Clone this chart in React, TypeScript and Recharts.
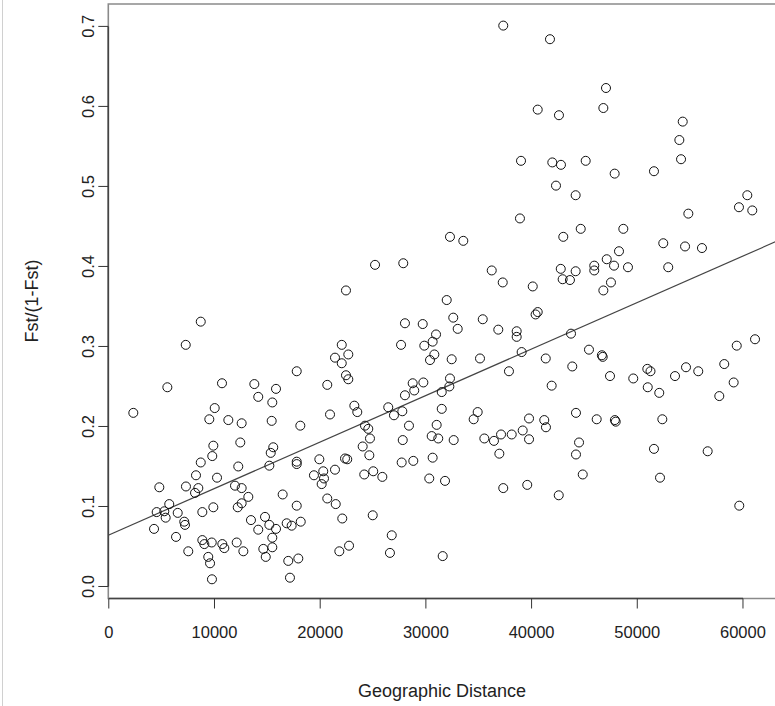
import { ScatterChart, Scatter, XAxis, YAxis, ReferenceLine, ReferenceArea, Label } from "recharts";

// geographic distance vs Fst/(1-Fst)
const distance = [
  25190, 22440, 37320, 32280, 33540, 27860, 36230, 37270, 31970, 41740,
  47040, 40580, 42590, 46790, 39000, 41960, 42780, 45120, 47860, 42310,
  44170, 38900, 44650, 48680, 43000, 48270, 47110, 45930, 45930, 47800,
  49120, 42760, 44170, 42940, 43630, 47510, 46790, 40110, 54300, 53980,
  54140, 51580, 60410, 59620, 60880, 54830, 52460, 54520, 56120, 52930,
  8700, 7280, 5540, 10710, 2320, 10020, 9510, 11310, 12570, 9890,
  9790, 12440, 8700, 8250, 10240, 12250, 4780, 7300, 8470, 8160,
  11940, 12570, 5720, 4530, 5250, 5380, 6520, 7140, 7210, 8850,
  9890, 12200, 12570, 4280, 6360, 7520, 8850, 9040, 9740, 10740,
  10930, 12100, 12730, 9410, 9580, 9760, 22040, 22660, 21400, 22040,
  17780, 22440, 22660, 13770, 20670, 15820, 14140, 15470, 23230, 23510,
  20930, 15410, 18120, 24240, 24550, 24710, 15560, 15320, 24020, 24650,
  15190, 17780, 17780, 19920, 22350, 22560, 21400, 20290, 19410, 20360,
  20140, 24170, 25020, 13200, 16450, 17780, 20670, 21470, 22090, 24970,
  13450, 14780, 15190, 14140, 15820, 16830, 17300, 18160, 15470, 14620,
  15470, 14850, 16980, 17930, 17140, 21810, 22730, 28020, 29700, 32590,
  35380, 33010, 36850, 30960, 30640, 29850, 27650, 30800, 30390, 32440,
  35120, 37860, 32280, 28750, 29760, 28900, 28020, 31500, 32220, 26440,
  26980, 27770, 31500, 34900, 34520, 28400, 31020, 27810, 30550, 31170,
  32630, 35530, 36440, 37110, 38120, 36950, 27710, 28810, 30640, 25880,
  30320, 31810, 37320, 26770, 26600, 31590, 40380, 40580, 38590, 38590,
  43730, 39060, 45430, 46650, 46730, 41340, 43850, 47420, 49620, 41900,
  39760, 41200, 41360, 44200, 46160, 47880, 47960, 39160, 39760, 44490,
  44200, 44840, 39590, 42570, 61140, 59410, 58230, 54610, 55770, 53570,
  50950, 51250, 50990, 52080, 59120, 57760, 52370, 51580, 56660, 52150,
  59650,
];

const fstRatio = [
  0.402, 0.370, 0.701, 0.437, 0.432, 0.404, 0.395, 0.380, 0.358, 0.684,
  0.623, 0.596, 0.589, 0.598, 0.532, 0.530, 0.527, 0.532, 0.516, 0.501,
  0.489, 0.460, 0.447, 0.447, 0.437, 0.419, 0.409, 0.401, 0.395, 0.401,
  0.399, 0.397, 0.394, 0.384, 0.383, 0.380, 0.370, 0.375, 0.581, 0.558,
  0.534, 0.519, 0.489, 0.474, 0.470, 0.466, 0.429, 0.425, 0.423, 0.399,
  0.331, 0.302, 0.249, 0.254, 0.217, 0.223, 0.209, 0.208, 0.204, 0.176,
  0.163, 0.180, 0.155, 0.139, 0.136, 0.150, 0.124, 0.125, 0.123, 0.117,
  0.126, 0.123, 0.103, 0.093, 0.094, 0.086, 0.092, 0.081, 0.077, 0.093,
  0.099, 0.099, 0.104, 0.072, 0.062, 0.044, 0.058, 0.053, 0.055, 0.053,
  0.048, 0.055, 0.044, 0.037, 0.029, 0.009, 0.302, 0.290, 0.286, 0.279,
  0.269, 0.264, 0.259, 0.253, 0.252, 0.247, 0.237, 0.230, 0.226, 0.218,
  0.215, 0.207, 0.201, 0.201, 0.197, 0.185, 0.174, 0.167, 0.175, 0.164,
  0.151, 0.156, 0.153, 0.159, 0.160, 0.159, 0.146, 0.144, 0.139, 0.135,
  0.128, 0.140, 0.144, 0.112, 0.115, 0.101, 0.110, 0.103, 0.085, 0.089,
  0.083, 0.087, 0.077, 0.071, 0.072, 0.079, 0.076, 0.081, 0.061, 0.047,
  0.049, 0.037, 0.032, 0.035, 0.011, 0.044, 0.051, 0.329, 0.328, 0.336,
  0.334, 0.322, 0.321, 0.315, 0.306, 0.301, 0.302, 0.290, 0.283, 0.284,
  0.285, 0.269, 0.260, 0.254, 0.255, 0.245, 0.239, 0.243, 0.250, 0.224,
  0.214, 0.219, 0.222, 0.218, 0.209, 0.201, 0.202, 0.183, 0.188, 0.185,
  0.183, 0.185, 0.182, 0.190, 0.190, 0.166, 0.155, 0.157, 0.161, 0.137,
  0.135, 0.132, 0.123, 0.064, 0.042, 0.038, 0.340, 0.343, 0.319, 0.312,
  0.316, 0.293, 0.296, 0.289, 0.287, 0.285, 0.275, 0.263, 0.260, 0.251,
  0.210, 0.208, 0.199, 0.217, 0.209, 0.208, 0.206, 0.195, 0.184, 0.180,
  0.165, 0.140, 0.127, 0.114, 0.309, 0.301, 0.278, 0.274, 0.269, 0.263,
  0.272, 0.269, 0.249, 0.242, 0.255, 0.238, 0.209, 0.172, 0.169, 0.136,
  0.101,
];

const xTicks = [0, 10000, 20000, 30000, 40000, 50000, 60000];
const yTicks = [0, 0.1, 0.2, 0.3, 0.4, 0.5, 0.6, 0.7];

// fitted line: intercept + slope * distance
const intercept = 0.0644;
const slope = 0.00000581;

const X_MIN = -47;
const X_MAX = 63664;
const Y_MIN = -0.015;
const Y_MAX = 0.728;

const points = distance.map((d, i) => ({ x: d, y: fstRatio[i] }));

const FONT = "'Liberation Sans', Arial, sans-serif";
const TICK_FS = 16.5;
const TITLE_FS = 18;

const XTick = ({ x, payload }: any) => (
  <text x={x} y={638} textAnchor="middle" fontSize={TICK_FS} fontFamily={FONT} fill="#222">
    {payload.value}
  </text>
);

const YTick = ({ y, payload }: any) => (
  <text
    transform={`translate(94, ${y}) rotate(-90)`}
    textAnchor="middle"
    fontSize={TICK_FS}
    fontFamily={FONT}
    fill="#222"
  >
    {payload.value.toFixed(1)}
  </text>
);

const Ring = (props: any) => (
  <circle cx={props.cx} cy={props.cy} r={4.5} fill="none" stroke="#111" strokeWidth={1} />
);

export default function App() {
  return (
    <div
      style={{
        position: "fixed",
        left: 0,
        top: 0,
        width: 775,
        height: 706,
        overflow: "hidden",
        background: "#fff",
      }}
    >
      <div style={{ position: "absolute", left: 2, top: 0, width: 1, height: 706, background: "#d0d0d0" }} />
      <ScatterChart
        width={800}
        height={706}
        margin={{ top: 4, right: 18.3, bottom: 47.5, left: 48.3 }}
      >
        <XAxis
          type="number"
          dataKey="x"
          domain={[X_MIN, X_MAX]}
          ticks={xTicks}
          interval={0}
          allowDataOverflow
          axisLine={false}
          tickLine={{ stroke: "#333" }}
          tickSize={10}
          height={60}
          tick={<XTick />}
        >
          <Label
            content={() => (
              <text x={442} y={697} textAnchor="middle" fontSize={TITLE_FS} fontFamily={FONT} fill="#222">
                Geographic Distance
              </text>
            )}
          />
        </XAxis>
        <YAxis
          type="number"
          dataKey="y"
          domain={[Y_MIN, Y_MAX]}
          ticks={yTicks}
          interval={0}
          allowDataOverflow
          axisLine={false}
          tickLine={{ stroke: "#333" }}
          tickSize={10}
          width={60}
          tick={<YTick />}
        >
          <Label
            content={() => (
              <text
                transform="translate(38, 301) rotate(-90)"
                textAnchor="middle"
                fontSize={TITLE_FS}
                fontFamily={FONT}
                fill="#222"
              >
                Fst/(1-Fst)
              </text>
            )}
          />
        </YAxis>
        <ReferenceArea
          x1={X_MIN}
          x2={X_MAX}
          y1={Y_MIN}
          y2={Y_MAX}
          fill="none"
          stroke="#8a8a8a"
          strokeWidth={1.6}
          ifOverflow="visible"
        />
        <ReferenceLine
          segment={[
            { x: X_MIN, y: 0 },
            { x: X_MIN, y: 0.7 },
          ]}
          stroke="#444"
          strokeWidth={1.6}
          ifOverflow="visible"
        />
        <ReferenceLine
          segment={[
            { x: 0, y: Y_MIN },
            { x: 60000, y: Y_MIN },
          ]}
          stroke="#444"
          strokeWidth={1.6}
          ifOverflow="visible"
        />
        <ReferenceLine
          segment={[
            { x: X_MIN, y: intercept + slope * X_MIN },
            { x: X_MAX, y: intercept + slope * X_MAX },
          ]}
          stroke="#444"
          strokeWidth={1.2}
          ifOverflow="visible"
        />
        <Scatter data={points} shape={<Ring />} isAnimationActive={false} />
      </ScatterChart>
    </div>
  );
}
